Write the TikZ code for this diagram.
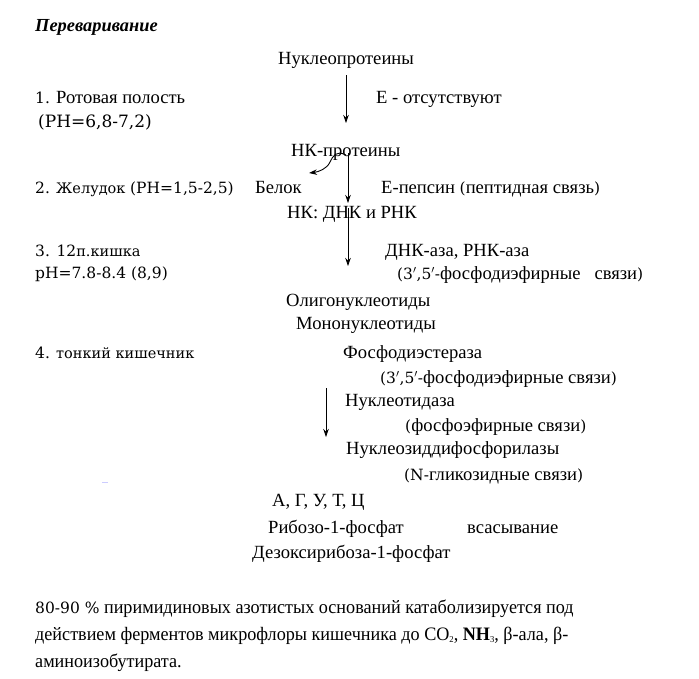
\documentclass[tikz,border=0pt]{standalone}
\usepackage{fontspec}
\setmainfont{Liberation Serif}
\newfontfamily\dv{DejaVu Serif}
\newfontfamily\narrow[FakeStretch=0.955]{Liberation Serif}
\usetikzlibrary{arrows.meta}
\newcommand{\dvs}[1]{{\dv\fontsize{14.5}{17}\selectfont #1}}
\newcommand{\dvb}[1]{{\dv\fontsize{15.5}{17}\selectfont #1}}
\newcommand{\sbs}[1]{\raisebox{-0.25ex}{\fontsize{9}{10}\selectfont #1}}
\begin{document}
\begin{tikzpicture}[x=1pt,y=-1pt,
 txt/.style={anchor=base west, inner sep=0pt, font=\fontsize{18.6}{20}\selectfont},
 para/.style={anchor=base west, inner sep=0pt, font=\fontsize{19}{21}\selectfont\narrow},
 arr/.style={-{Stealth[length=8pt,width=5.5pt]}, line width=0.8pt}]
\useasboundingbox (0,0) rectangle (699,678);
\fill[white] (0,0) rectangle (699,678);

\node[txt,font=\fontsize{18.4}{20}\selectfont\bfseries\itshape] (title) at (35,31) {Переваривание};
\node[txt] (np) at (278,64) {Нуклеопротеины};
\node[txt] (s1) at (35,103) {\dvb{1.} Ротовая полость};
\node[txt] (ph1) at (38,127) {{\dv\fontsize{17}{18}\selectfont (PH=6,8-7,2)}};
\node[txt] (e0) at (376,103) {Е - отсутствуют};
\node[txt] (nkp) at (291,156) {НК-протеины};
\node[txt] (s2) at (35,193) {\dvb{2.} \dvs{Желудок} \dvb{(PH=1,5-2,5)}};
\node[txt] (belok) at (255,193) {Белок};
\node[txt] (pep) at (381,193) {Е-пепсин \dvb{(}пептидная связь\dvb{)}};
\node[txt] (nk) at (287,218) {НК: ДНК и РНК};
\node[txt] (s3) at (35,256) {\dvb{3. 12}\dvs{п.кишка}};
\node[txt] (dnk) at (385,256) {ДНК-аза, РНК-аза};
\node[txt] (ph3) at (35,278) {\dvb{pH=7.8-8.4 (8,9)}};
\node[txt] (b1) at (397,279) {\dvb{(3$'$,5$'$-}фосфодиэфирные\ \ \ связи\dvb{)}};
\node[txt] (oligo) at (286,306) {Олигонуклеотиды};
\node[txt] (mono) at (296,329) {Мононуклеотиды};
\node[txt] (s4) at (35,358) {\dvb{4.} \dvs{тонкий кишечник}};
\node[txt] (fde) at (343,358) {Фосфодиэстераза};
\node[txt] (b2) at (380,383) {\dvb{(3$'$,5$'$-}фосфодиэфирные связи\dvb{)}};
\node[txt] (nuc) at (345,406) {Нуклеотидаза};
\node[txt] (b3) at (405,431) {\dvb{(}фосфоэфирные связи\dvb{)}};
\node[txt] (nfr) at (346,454) {Нуклеозиддифосфорилазы};
\node[txt] (b4) at (404,480) {\dvb{(N-}гликозидные связи\dvb{)}};
\node[txt] (bases) at (272,506) {А, Г, У, Т, Ц};
\node[txt] (rib) at (268,533) {Рибозо-1-фосфат};
\node[txt] (abs) at (467,533) {всасывание};
\node[txt] (dez) at (252,558) {Дезоксирибоза-1-фосфат};

\node[para] (p1) at (35,613) {{\dv\fontsize{15.5}{17}\selectfont 80-90 \%} пиримидиновых азотистых оснований катаболизируется под};
\node[para] (p2) at (35,640) {действием ферментов микрофлоры кишечника до CO\sbs{2}, {\bfseries NH}\sbs{3}, β-ала, β-};
\node[para] (p3) at (35,667) {аминоизобутирата.};

\coordinate (a1s) at (346,75);
\coordinate (a1e) at (346,123);
\coordinate (a2s) at (348,153);
\coordinate (a2e) at (348,203);
\coordinate (a3s) at (348,208);
\coordinate (a3e) at (348,266);
\coordinate (a4s) at (326,388);
\coordinate (a4e) at (326,437);
\coordinate (cs) at (346,155);
\coordinate (ce) at (309,173);
\draw[arr] (a1s) -- (a1e);
\draw[arr] (a2s) -- (a2e);
\draw[arr] (a3s) -- (a3e);
\draw[arr] (a4s) -- (a4e);
\draw[arr,line width=0.9pt] (cs) .. controls (336,150) and (333,156) .. (330,162) .. controls (327,169) and (318,172) .. (ce);
\draw[line width=1pt, blue!20] (102,482) -- (108,482);
\end{tikzpicture}
\end{document}
